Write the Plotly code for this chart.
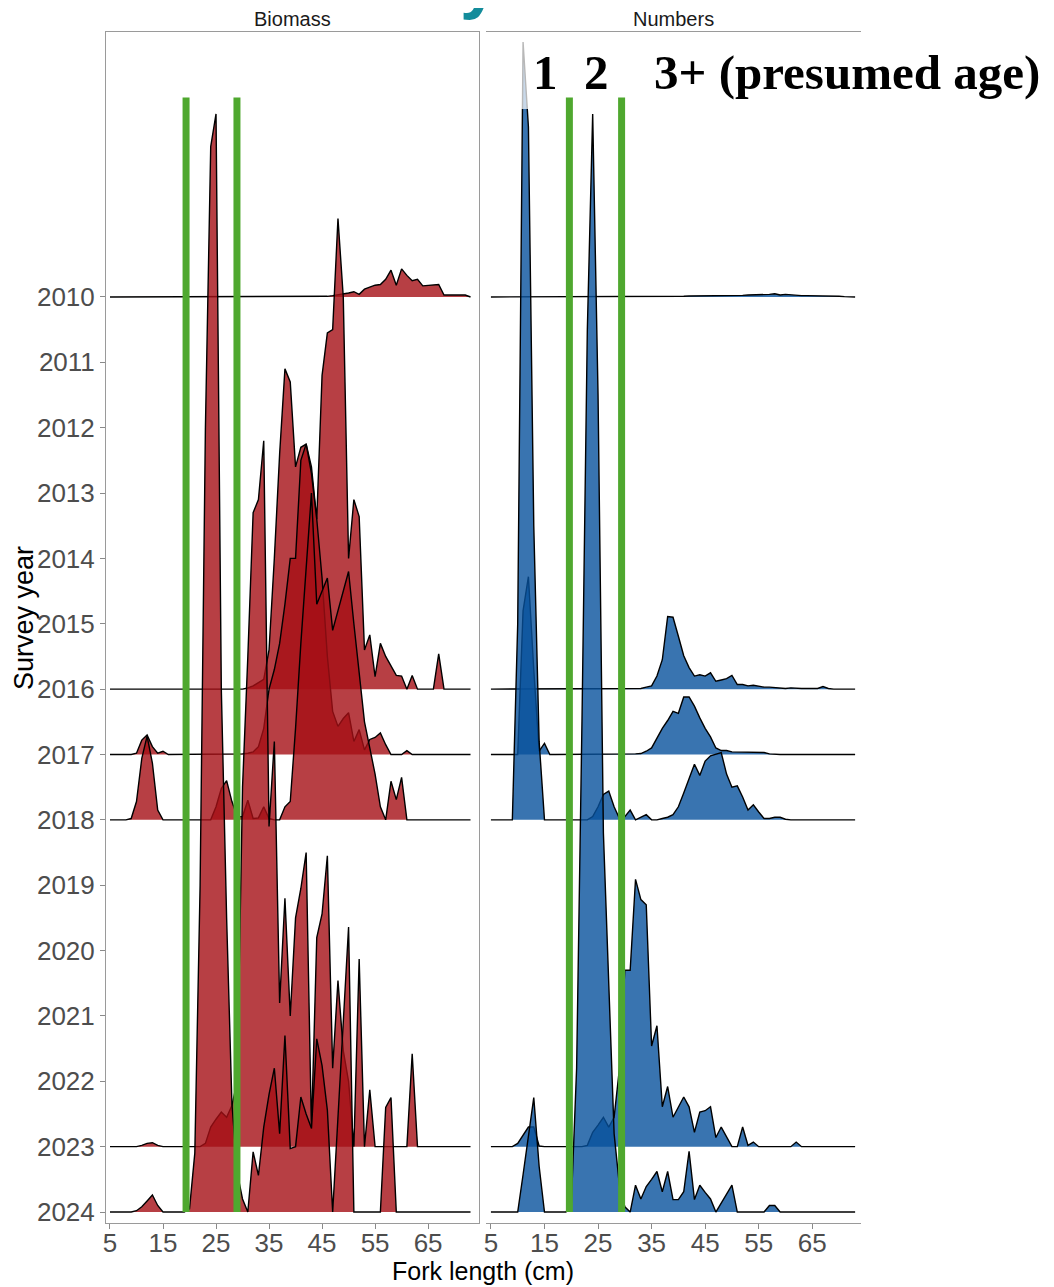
import plotly.graph_objects as go

W, H = 1054, 1287
PAGE_PAD = 8   # the html body margin shifts the figure by this much

years = list(range(2010, 2025))
lengths = list(range(5, 74))          # fork length bins (cm)
x_ticks = [5, 15, 25, 35, 45, 55, 65]

# ridge heights in "one survey-year row" units, listed from the first length given
bio_2010_from = 45
bio_2010 = [0, 0.01, 0.02, 0.03, 0.04, 0.06, 0.08, 0.04, 0.12, 0.15, 0.18, 0.19, 0.27, 0.41, 0.18,
            0.43, 0.33, 0.25, 0.27, 0.17, 0.18, 0.18, 0.19, 0.03, 0.03, 0.03, 0.03, 0.03, 0]

bio_2016_from = 30
bio_2016 = [0, 0.02, 0.05, 0.1, 0.15, 0.6, 2.0, 3.6, 4.9, 4.7, 3.4, 3.7, 3.75, 3.4, 2.6,
            4.8, 5.45, 5.5, 7.2, 6.0, 2.0, 2.9, 2.64, 0.6, 0.83, 0.19, 0.7, 0.5, 0.35, 0.21,
            0.2, 0, 0.21, 0, 0, 0, 0, 0.54, 0]

bio_2017_from = 9
bio_2017 = [0, 0.02, 0.22, 0.3, 0.12, 0.02, 0.05, 0,
            0, 0, 0, 0, 0, 0, 0, 0, 0, 0, 0, 0, 0,
            0.01, 0.02, 0.04, 0.12, 0.4, 1.0, 1.3, 1.7, 2.3, 3.0, 3.0, 4.5, 4.75, 4.3, 3.6,
            2.7, 1.5, 0.66, 0.43, 0.55, 0.64, 0.2, 0.38, 0.07, 0.23, 0.26, 0.33, 0.15, 0,
            0, 0, 0.06, 0]

bio_2018_from = 8
bio_2018 = [0, 0.02, 0.28, 0.94, 1.28, 0.87, 0.15, 0,
            0, 0, 0, 0, 0, 0, 0, 0, 0,
            0.2, 0.48, 0.6, 0.28, 0.05, 0.05, 0.3, 0.02, 0.03, 0.2, 0.02, 0, 0, 0.2, 0.28,
            1.4, 2.7, 3.8, 5.0, 3.3, 3.5, 3.7, 2.9, 3.2, 3.5, 3.8, 3.0, 2.2, 1.5, 1.1, 0.7,
            0.2, 0, 0.59, 0.31, 0.65, 0]

bio_2023_from = 10
bio_2023 = [0, 0.02, 0.05, 0.06, 0.02, 0,
            0, 0, 0, 0, 0, 0, 0,
            0.05, 0.3, 0.42, 0.53, 0.45, 0.63, 1.0, 5.5, 7.5, 9.7, 9.9, 10.8, 4.9, 6.2, 2.2,
            3.8, 2.0, 3.5, 3.95, 4.5, 0.27, 3.2, 3.56, 4.45, 1.2, 2.54, 1.47, 1.0, 0, 2.87,
            0, 0.87, 0, 0, 0, 0, 0, 0, 0, 1.42, 0]

bio_2024_from = 9
bio_2024 = [0, 0.02, 0.08, 0.17, 0.26, 0.1, 0, 0, 0, 0, 0,
            0.05, 0.9, 5.0, 12.0, 16.3, 16.8, 8.0, 4.5, 1.66, 0.6, 0.2, 0, 0.92, 0.56, 1.3,
            1.8, 2.2, 1.2, 2.7, 0.97, 1.0, 1.76, 1.5, 1.28, 2.65, 2.24, 1.56, 0, 1.45, 2.9,
            4.36, 0, 0, 0, 0, 0, 0, 1.6, 1.75, 0]

num_2010_from = 35
num_2010 = [0, 0.005, 0.005, 0.01, 0.01, 0.01, 0.01, 0.015, 0.015, 0.015, 0.02, 0.02, 0.02,
            0.02, 0.02, 0.02, 0.025, 0.025, 0.03, 0.03, 0.03, 0.035, 0.04, 0.05, 0.03, 0.04,
            0.03, 0.025, 0.02, 0.02, 0.02, 0.015, 0.015, 0.01, 0.01, 0.01, 0.005, 0.005, 0]

num_2016_from = 32
num_2016 = [0, 0.01, 0.03, 0.05, 0.2, 0.45, 1.11, 1.1, 0.81, 0.51, 0.33, 0.2, 0.22, 0.2,
            0.25, 0.12, 0.14, 0.16, 0.21, 0.07, 0.07, 0.05, 0.06, 0.04, 0.03, 0.03, 0.02,
            0.02, 0.01, 0.02, 0.01, 0.01, 0.01, 0.01, 0.01, 0.04, 0.01, 0]

num_2017_from = 10
num_2017 = [0, 2.2, 2.72, 1.3, 0.05, 0.17, 0,
            0, 0, 0, 0, 0, 0, 0, 0, 0, 0, 0, 0, 0, 0,
            0.005, 0.01, 0.015, 0.05, 0.1, 0.25, 0.4, 0.52, 0.66, 0.63, 0.88, 0.88, 0.74,
            0.56, 0.4, 0.27, 0.1, 0.06, 0.06, 0.04, 0.04, 0.03, 0.03, 0.03, 0.03, 0.03, 0.01, 0]

num_2018_from = 9
num_2018 = [0, 3.0, 11.9, 10.6, 4.5, 1.2, 0,
            0, 0, 0, 0, 0, 0, 0, 0,
            0.05, 0.2, 0.39, 0.44, 0.2, 0.02, 0.05, 0.15, 0, 0.04, 0.08, 0, 0, 0.02, 0.04,
            0.08, 0.2, 0.41, 0.62, 0.85, 0.68, 0.9, 0.98, 1.0, 1.03, 0.7, 0.5, 0.52, 0.35,
            0.15, 0.23, 0.12, 0.02, 0.02, 0.04, 0.04, 0.01, 0]

num_2023_from = 9
num_2023 = [0, 0.05, 0.18, 0.3, 0.3, 0.01, 0,
            0, 0, 0, 0, 0, 0, 0,
            0.02, 0.22, 0.33, 0.45, 0.3, 0.45, 1.2, 2.7, 2.7, 4.09, 3.78, 3.7, 1.54, 1.85,
            0.61, 0.92, 0.45, 0.6, 0.76, 0.61, 0.22, 0.53, 0.55, 0.61, 0.14, 0.3, 0.15, 0, 0,
            0.3, 0.02, 0.07, 0, 0, 0, 0, 0, 0, 0, 0.07, 0]

num_2024_from = 10
num_2024 = [0, 0.57, 1.16, 1.75, 0.7, 0, 0, 0, 0, 0,
            0.1, 2.2, 7.5, 13.5, 16.8, 12.5, 5.8, 3.5, 1.2, 0.4, 0.08, 0, 0.41, 0.2, 0.39,
            0.5, 0.62, 0.31, 0.62, 0.19, 0.19, 0.31, 0.93, 0.19, 0.41, 0.3, 0.2, 0, 0.14,
            0.27, 0.41, 0, 0, 0, 0, 0, 0, 0.1, 0.1, 0]

bio_ridges = [(2010, bio_2010_from, bio_2010), (2016, bio_2016_from, bio_2016),
              (2017, bio_2017_from, bio_2017), (2018, bio_2018_from, bio_2018),
              (2023, bio_2023_from, bio_2023), (2024, bio_2024_from, bio_2024)]
num_ridges = [(2010, num_2010_from, num_2010), (2016, num_2016_from, num_2016),
              (2017, num_2017_from, num_2017), (2018, num_2018_from, num_2018),
              (2023, num_2023_from, num_2023), (2024, num_2024_from, num_2024)]

# presumed age cut-offs drawn by hand on each panel (cm)
bio_cuts = [19.35, 28.95]
num_cuts = [19.65, 29.4]


def full_row(start, vals):
    """Pad a ridge with zeros over the whole length range"""
    lead = start - lengths[0]
    tail = len(lengths) - lead - len(vals)
    assert tail >= 0, start
    return [0] * lead + list(vals) + [0] * tail


def px_x(p):
    return (p - PAGE_PAD) / W


def px_y(p):
    return 1 - (p - PAGE_PAD) / H


FONT = "Liberation Sans, Arial, sans-serif"
fig = go.Figure()

for ridges, xa, fill in [(bio_ridges, "x", "rgba(165,15,21,0.8)"),
                         (num_ridges, "x2", "rgba(8,81,156,0.8)")]:
    for yr, start, vals in ridges:
        h = full_row(start, vals)
        top = [yr - v for v in h]
        fig.add_trace(go.Scatter(x=lengths + lengths[::-1], y=top + [yr] * len(lengths),
                                 xaxis=xa, yaxis="y", mode="lines", fill="toself",
                                 fillcolor=fill, line=dict(width=0), hoverinfo="skip",
                                 showlegend=False))
        fig.add_trace(go.Scatter(x=lengths, y=top, xaxis=xa, yaxis="y", mode="lines",
                                 line=dict(color="black", width=1.4), hoverinfo="skip",
                                 showlegend=False))

ydom = [px_y(1223), px_y(32)]
axis_style = dict(showline=True, mirror=True, linecolor="#9a9a9a", linewidth=1,
                  showgrid=False, zeroline=False, automargin=False)
x_style = dict(axis_style, tickvals=x_ticks, ticks="outside", ticklen=5, tickcolor="#8a8a8a",
               ticklabelstandoff=-8,
               tickfont=dict(family=FONT, size=26, color="#4d4d4d"))

fig.update_layout(
    width=W, height=H, margin=dict(l=0, r=0, t=0, b=0),
    paper_bgcolor="white", plot_bgcolor="white", showlegend=False,
    xaxis=dict(x_style, domain=[px_x(106), px_x(479)], range=[4.25, 74.6], anchor="y"),
    xaxis2=dict(x_style, domain=[px_x(486), px_x(861)], range=[4.08, 74.1], anchor="y2"),
    yaxis=dict(axis_style, domain=ydom, range=[2024.168, 2005.946], anchor="x",
               tickvals=years, ticktext=[str(y) for y in years], ticks="outside", ticklen=5,
               tickcolor="#8a8a8a", tickfont=dict(family=FONT, size=26, color="#4d4d4d")),
    yaxis2=dict(axis_style, domain=ydom, range=[2024.168, 2005.946], anchor="x2",
                matches="y", showticklabels=False, ticks=""),
)

shapes = [dict(type="rect", xref="paper", yref="paper", x0=px_x(505), x1=1.0,
               y0=px_y(109), y1=px_y(34), fillcolor="white", opacity=0.72,
               line=dict(width=0), layer="above")]
for xa, cuts in [("x", bio_cuts), ("x2", num_cuts)]:
    for c in cuts:
        shapes.append(dict(type="line", xref=xa, yref="y", x0=c, x1=c, y0=2006.95, y1=2024,
                           line=dict(color="#4fa82f", width=7), layer="above"))
fig.update_layout(shapes=shapes)

ann = [
    dict(text="Biomass", x=px_x(292.5), y=px_y(19)),
    dict(text="Numbers", x=px_x(673.5), y=px_y(19)),
]
for a in ann:
    a.update(xref="paper", yref="paper", showarrow=False, xanchor="center", yanchor="middle",
             font=dict(family=FONT, size=20, color="#1a1a1a"))
ann += [
    dict(text="Fork length (cm)", x=px_x(483), y=px_y(1271), xref="paper", yref="paper",
         showarrow=False, xanchor="center", yanchor="middle",
         font=dict(family=FONT, size=25, color="black")),
    dict(text="Survey year", x=px_x(24), y=px_y(618), xref="paper", yref="paper",
         showarrow=False, textangle=-90, xanchor="center", yanchor="middle",
         font=dict(family=FONT, size=27, color="black")),
    dict(text="<b>y</b>", x=px_x(479), y=px_y(22), xref="paper", yref="paper",
         showarrow=False, xanchor="center", yanchor="bottom",
         font=dict(family=FONT, size=70, color="#138c9b")),
]
serif = dict(family="Liberation Serif, Times New Roman, serif", size=49, color="black")
for txt, xp, anchor in [("<b>1</b>", 546, "center"), ("<b>2</b>", 596, "center"),
                        ("<b>3+ (presumed age)</b>", 652, "left")]:
    ann.append(dict(text=txt, x=px_x(xp), y=px_y(73), xref="paper", yref="paper",
                    showarrow=False, xanchor=anchor, yanchor="middle", font=serif))
fig.update_layout(annotations=ann)

fig.write_html("out.html")
